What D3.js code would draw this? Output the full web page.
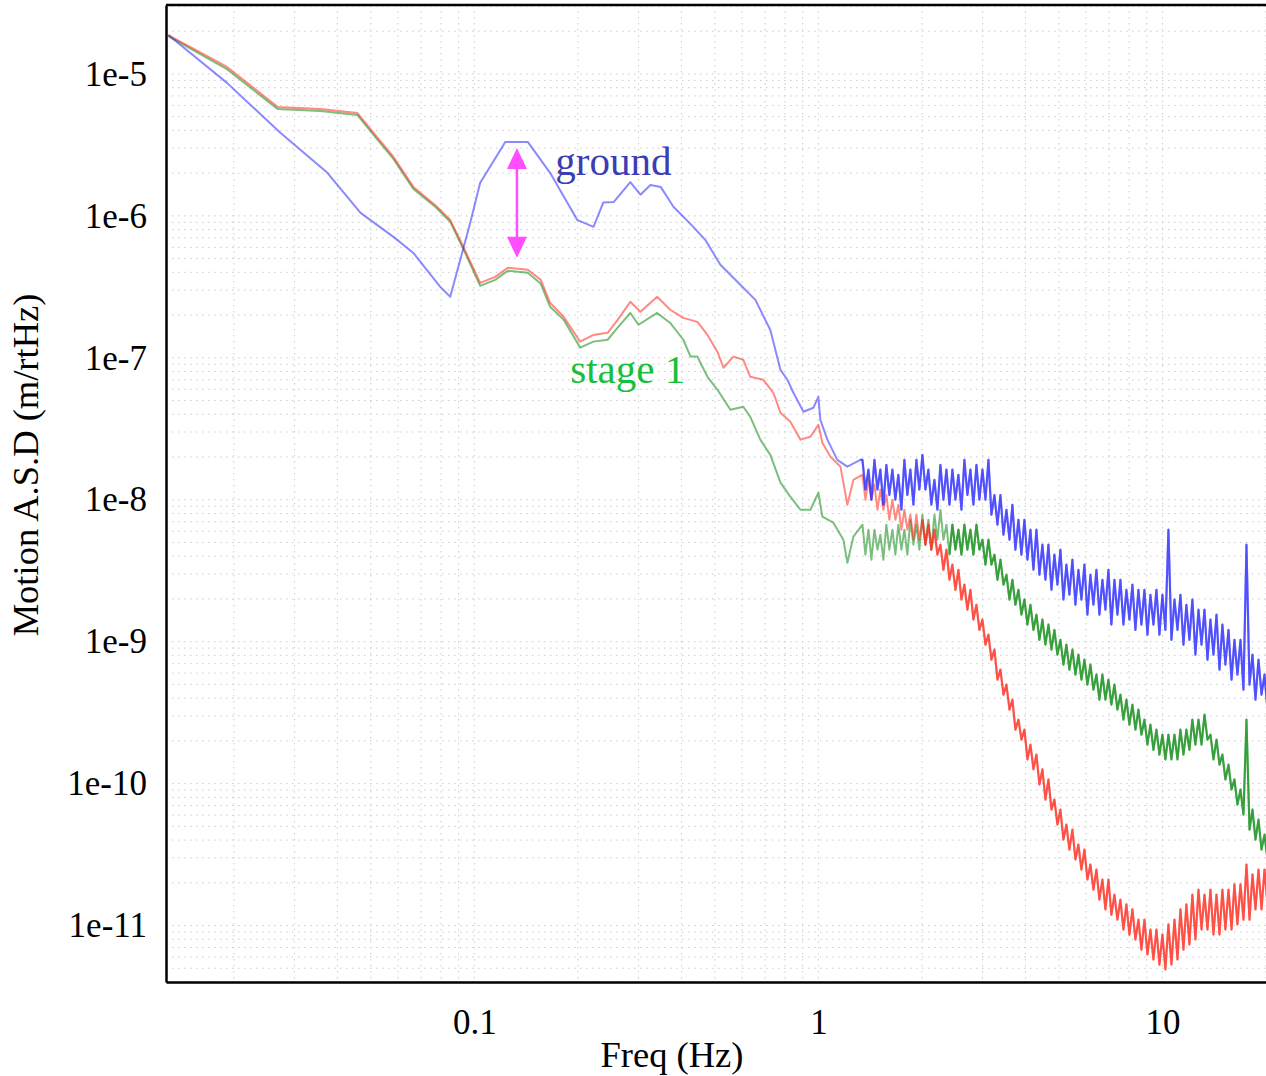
<!DOCTYPE html>
<html>
<head>
<meta charset="utf-8">
<script src="https://cdn.jsdelivr.net/npm/d3@7"></script>
<style>
  body { margin: 0; background: #fff; }
</style>
</head>
<body>
<svg id="chart" width="1266" height="1076"></svg>
<script>
// ---- data: [freq Hz, ASD m/rtHz] ----
var groundLow = [[0.0129,1.88e-5],[0.0191,8.65e-6],[0.0273,3.85e-6],[0.0374,2.01e-6],[0.0467,1.05e-6],
  [0.0582,7.11e-7],[0.0665,5.48e-7],[0.0796,3.16e-7],[0.0851,2.69e-7],[0.0910,4.90e-7],[0.0973,8.93e-7],
  [0.104,1.71e-6],[0.111,2.21e-6],[0.123,3.32e-6],[0.143,3.32e-6],[0.166,2.01e-6],[0.199,9.38e-7],
  [0.222,8.37e-7],[0.237,1.24e-6],[0.254,1.25e-6],[0.284,1.73e-6],[0.304,1.41e-6],[0.325,1.65e-6],
  [0.348,1.60e-6],[0.379,1.16e-6],[0.433,8.37e-7],[0.469,6.78e-7],[0.519,4.52e-7],[0.593,3.27e-7],
  [0.656,2.56e-7],[0.725,1.57e-7],[0.776,8.22e-8],[0.813,7.0e-8],[0.846,5.67e-8],[0.905,4.17e-8],
  [0.967,4.45e-8],[1.0,5.31e-8],[1.013,3.66e-8],[1.062,2.65e-8],[1.135,1.91e-8],[1.214,1.71e-8],[1.324,1.91e-8]];

var redLow = [[0.0129,1.88e-5],[0.0191,1.12e-5],[0.0268,5.86e-6],[0.0357,5.67e-6],[0.0457,5.31e-6],
  [0.0515,3.72e-6],[0.0582,2.60e-6],[0.0665,1.60e-6],[0.0770,1.19e-6],[0.0851,9.38e-7],[0.0929,6.05e-7],
  [0.104,3.37e-7],[0.115,3.72e-7],[0.125,4.31e-7],[0.143,4.17e-7],[0.156,3.54e-7],[0.166,2.44e-7],
  [0.182,1.94e-7],[0.203,1.30e-7],[0.222,1.45e-7],[0.244,1.50e-7],[0.261,1.85e-7],[0.284,2.48e-7],
  [0.304,2.11e-7],[0.340,2.69e-7],[0.371,2.18e-7],[0.405,1.91e-7],[0.445,1.79e-7],[0.476,1.45e-7],
  [0.509,1.10e-7],[0.530,8.51e-8],[0.566,1.02e-7],[0.605,9.68e-8],[0.634,7.35e-8],[0.692,7.0e-8],
  [0.740,5.67e-8],[0.776,4.10e-8],[0.829,3.54e-8],[0.887,2.65e-8],[0.948,2.78e-8],[1.0,3.37e-8],
  [1.027,2.52e-8],[1.084,2.01e-8],[1.159,1.71e-8],[1.182,1.32e-8],[1.214,9.22e-9],[1.264,1.38e-8]];

var greenLow = [[0.0129,1.85e-5],[0.0191,1.08e-5],[0.0268,5.67e-6],[0.0357,5.48e-6],[0.0457,5.14e-6],
  [0.0515,3.60e-6],[0.0582,2.52e-6],[0.0665,1.55e-6],[0.0770,1.16e-6],[0.0851,9.08e-7],[0.0929,5.86e-7],
  [0.104,3.21e-7],[0.115,3.54e-7],[0.125,4.10e-7],[0.143,3.97e-7],[0.156,3.32e-7],[0.166,2.29e-7],
  [0.182,1.85e-7],[0.203,1.18e-7],[0.222,1.30e-7],[0.244,1.34e-7],[0.261,1.63e-7],[0.284,2.07e-7],
  [0.300,1.71e-7],[0.340,2.07e-7],[0.371,1.76e-7],[0.405,1.34e-7],[0.425,1.02e-7],[0.445,1.02e-7],
  [0.476,7.35e-8],[0.509,5.95e-8],[0.555,4.30e-8],[0.605,4.52e-8],[0.634,3.84e-8],[0.678,2.65e-8],
  [0.725,2.07e-8],[0.776,1.32e-8],[0.829,1.05e-8],[0.887,8.50e-9],[0.948,8.50e-9],[1.0,1.12e-8],
  [1.027,7.59e-9],[1.105,6.89e-9],[1.182,5.23e-9],[1.214,3.60e-9],[1.264,5.49e-9]];

// above ~1.3 Hz the traces are noisy bands: peaks (hfFreq) alternate with troughs (hfMid)
var hfFreq = [1.343,1.398,1.455,1.514,1.576,1.641,1.708,1.778,1.851,1.927,
  2.006,2.088,2.174,2.263,2.356,2.452,2.553,2.657,2.766,2.880,
  2.998,3.121,3.249,3.382,3.521,3.664,3.815,3.971,4.134,4.303,
  4.479,4.663,4.853,5.052,5.259,5.475,5.699,5.933,6.176,6.429,
  6.692,6.966,7.252,7.549,7.858,8.180,8.515,8.865,9.228,9.607,
  10.00,10.41,10.84,11.28,11.74,12.22,12.73,13.25,13.79,14.36,
  14.94,15.56,16.19,16.86,17.55,18.27,19.02,19.80];

var hfMid = [1.370,1.426,1.485,1.545,1.608,1.674,1.743,1.814,1.889,1.966,
  2.047,2.130,2.218,2.309,2.404,2.502,2.605,2.711,2.822,2.938,
  3.059,3.184,3.315,3.451,3.593,3.738,3.892,4.052,4.218,4.390,
  4.570,4.758,4.952,5.155,5.366,5.586,5.815,6.053,6.301,6.559,
  6.828,7.107,7.399,7.702,8.018,8.346,8.688,9.045,9.415,9.802,
  10.20,10.62,11.06,11.51,11.98,12.47,12.99,13.52,14.07,14.65,
  15.24,15.88,16.52,17.20,17.91,18.64,19.41,20.20];

var groundUp = [1.91e-8,1.63e-8,1.91e-8,1.63e-8,1.76e-8,1.63e-8,1.50e-8,1.91e-8,1.63e-8,1.91e-8,
  2.07e-8,1.63e-8,1.38e-8,1.76e-8,1.63e-8,1.63e-8,1.50e-8,1.91e-8,1.63e-8,1.76e-8,
  1.63e-8,1.91e-8,1.08e-8,1.08e-8,8.50e-9,9.22e-9,7.23e-9,7.23e-9,6.15e-9,6.15e-9,
  4.82e-9,4.82e-9,4.10e-9,4.45e-9,3.49e-9,3.78e-9,3.21e-9,3.49e-9,2.96e-9,3.21e-9,
  2.73e-9,3.21e-9,2.73e-9,2.73e-9,2.32e-9,2.52e-9,2.32e-9,2.32e-9,2.14e-9,2.32e-9,
  2.14e-9,6.15e-9,1.98e-9,2.14e-9,1.82e-9,1.98e-9,1.68e-9,1.68e-9,1.43e-9,1.55e-9,
  1.32e-9,1.21e-9,1.03e-9,1.03e-9,4.82e-9,8.10e-10,7.47e-10,5.86e-10];
var groundLo = [1.18e-8,1.00e-8,1.18e-8,9.22e-9,1.08e-8,1.00e-8,8.50e-9,1.08e-8,9.22e-9,1.18e-8,
  1.18e-8,9.22e-9,8.50e-9,1.00e-8,9.22e-9,1.00e-8,8.50e-9,1.08e-8,9.22e-9,1.00e-8,
  1.00e-8,7.84e-9,6.67e-9,5.67e-9,5.23e-9,4.45e-9,4.10e-9,3.78e-9,3.21e-9,2.96e-9,
  2.73e-9,2.32e-9,2.52e-9,1.98e-9,2.14e-9,1.82e-9,1.98e-9,1.55e-9,1.82e-9,1.55e-9,
  1.68e-9,1.32e-9,1.55e-9,1.32e-9,1.43e-9,1.21e-9,1.32e-9,1.12e-9,1.32e-9,1.12e-9,
  1.21e-9,1.03e-9,1.21e-9,9.53e-10,1.03e-9,8.10e-10,9.53e-10,7.47e-10,8.10e-10,6.35e-10,
  6.89e-10,5.40e-10,5.86e-10,4.59e-10,4.98e-10,3.90e-10,4.23e-10,3.32e-10];

var redUp = [1.50e-8,1.38e-8,1.28e-8,1.18e-8,1.08e-8,1.00e-8,9.22e-9,8.50e-9,7.84e-9,7.84e-9,
  7.23e-9,6.67e-9,6.15e-9,4.82e-9,4.45e-9,3.49e-9,3.21e-9,2.52e-9,2.32e-9,1.82e-9,
  1.43e-9,1.12e-9,8.79e-10,6.35e-10,4.98e-10,3.90e-10,2.82e-10,2.40e-10,1.88e-10,1.60e-10,
  1.26e-10,1.07e-10,7.71e-11,6.56e-11,5.14e-11,4.74e-11,3.72e-11,3.43e-11,2.69e-11,2.48e-11,
  2.11e-11,2.11e-11,1.65e-11,1.52e-11,1.41e-11,1.30e-11,1.10e-11,1.10e-11,9.37e-12,9.37e-12,
  8.64e-12,1.02e-11,1.10e-11,1.30e-11,1.41e-11,1.65e-11,1.79e-11,1.65e-11,1.79e-11,1.65e-11,
  1.79e-11,1.79e-11,1.95e-11,1.95e-11,2.69e-11,2.29e-11,2.48e-11,2.48e-11];
var redLo = [1.00e-8,1.00e-8,8.50e-9,8.50e-9,7.23e-9,7.23e-9,6.15e-9,6.15e-9,5.23e-9,5.23e-9,
  4.82e-9,4.45e-9,4.10e-9,3.21e-9,2.73e-9,2.32e-9,1.98e-9,1.68e-9,1.43e-9,1.21e-9,
  9.53e-10,7.47e-10,5.40e-10,4.23e-10,3.32e-10,2.40e-10,2.04e-10,1.48e-10,1.26e-10,9.85e-11,
  7.71e-11,6.56e-11,5.14e-11,4.03e-11,3.43e-11,2.92e-11,2.48e-11,2.11e-11,1.79e-11,1.52e-11,
  1.30e-11,1.19e-11,1.10e-11,9.37e-12,8.64e-12,7.97e-12,6.77e-12,6.25e-12,5.76e-12,5.31e-12,
  4.90e-12,5.31e-12,5.76e-12,6.77e-12,7.35e-12,7.97e-12,9.37e-12,9.37e-12,8.64e-12,8.64e-12,
  9.37e-12,9.37e-12,1.02e-11,1.10e-11,1.10e-11,1.30e-11,1.30e-11,1.41e-11];

var greenUp = [6.67e-9,6.15e-9,6.15e-9,5.67e-9,6.67e-9,6.15e-9,6.67e-9,6.15e-9,7.23e-9,6.67e-9,
  7.84e-9,7.23e-9,7.84e-9,8.50e-9,6.67e-9,6.67e-9,6.15e-9,6.67e-9,6.15e-9,6.67e-9,
  5.23e-9,5.23e-9,4.10e-9,3.78e-9,2.96e-9,2.73e-9,2.32e-9,1.98e-9,1.82e-9,1.55e-9,
  1.43e-9,1.32e-9,1.21e-9,1.03e-9,9.53e-10,8.79e-10,8.10e-10,7.47e-10,6.89e-10,5.86e-10,
  5.86e-10,5.40e-10,4.98e-10,4.23e-10,3.90e-10,3.60e-10,3.32e-10,2.82e-10,2.60e-10,2.40e-10,
  2.21e-10,2.21e-10,2.21e-10,2.40e-10,2.40e-10,2.82e-10,2.82e-10,3.06e-10,2.21e-10,2.04e-10,
  1.60e-10,1.36e-10,1.07e-10,9.08e-11,2.82e-10,6.56e-11,5.58e-11,4.37e-11];
var greenLo = [4.10e-9,3.78e-9,4.45e-9,3.78e-9,4.45e-9,4.10e-9,4.45e-9,4.10e-9,4.82e-9,4.45e-9,
  4.82e-9,4.45e-9,5.23e-9,5.23e-9,4.10e-9,4.45e-9,4.10e-9,4.45e-9,4.10e-9,4.45e-9,
  3.49e-9,3.49e-9,2.73e-9,2.52e-9,1.98e-9,1.82e-9,1.55e-9,1.32e-9,1.21e-9,1.03e-9,
  9.53e-10,8.79e-10,8.10e-10,6.89e-10,6.35e-10,5.86e-10,5.40e-10,4.98e-10,4.59e-10,3.90e-10,
  3.90e-10,3.60e-10,3.32e-10,2.82e-10,2.60e-10,2.40e-10,2.21e-10,1.88e-10,1.73e-10,1.60e-10,
  1.48e-10,1.48e-10,1.48e-10,1.60e-10,1.73e-10,1.88e-10,1.88e-10,2.04e-10,1.48e-10,1.36e-10,
  1.07e-10,9.08e-11,7.11e-11,6.05e-11,4.74e-11,4.03e-11,3.43e-11,2.92e-11];

var xTicks = [0.1, 1, 10];
var yTicks = [1e-5, 1e-6, 1e-7, 1e-8, 1e-9, 1e-10, 1e-11];

// ---- layout ----
var svg = d3.select("#chart");
var plotL = 166, plotT = 5, plotR = 1266, plotB = 982;
var serif = "Liberation Serif, Times New Roman, serif";

var x = d3.scaleLog().domain([0.0127, 20]).range([plotL, plotR]);
var y = d3.scaleLog().domain([4.0e-12, 3.06e-5]).range([plotB, plotT]);

// low part followed by peak/trough pairs
function join(low, up, lo) {
  var pts = low.slice();
  hfFreq.forEach(function(f, i) {
    pts.push([f, up[i]]);
    pts.push([hfMid[i], lo[i]]);
  });
  return pts;
}

// *********** GRID ***************** //
var grid = svg.append("g").attr("class", "grid");
grid.selectAll("line.gx").data(x.ticks()).enter().append("line")
  .attr("x1", function(d) { return x(d); })
  .attr("x2", function(d) { return x(d); })
  .attr("y1", plotT).attr("y2", plotB)
  .attr("stroke", "#cccccc").attr("stroke-width", 1)
  .attr("stroke-dasharray", "1.5,4.5");
grid.selectAll("line.gy").data(y.ticks()).enter().append("line")
  .attr("y1", function(d) { return y(d); })
  .attr("y2", function(d) { return y(d); })
  .attr("x1", plotL).attr("x2", plotR)
  .attr("stroke", "#cccccc").attr("stroke-width", 1)
  .attr("stroke-dasharray", "1.5,4.5");

// *********** CURVES ***************** //
svg.append("clipPath").attr("id", "plotclip").append("rect")
  .attr("x", plotL).attr("y", plotT).attr("width", plotR - plotL).attr("height", plotB - plotT);

var line = d3.line()
  .x(function(d) { return x(d[0]); })
  .y(function(d) { return y(d[1]); });

// denseFrom: where the noise gets dense and the trace looks saturated
var series = [
  { name: "stage1-green", data: join(greenLow, greenUp, greenLo), color: "#0c8a12", denseFrom: 2.4 },
  { name: "stage1-red", data: join(redLow, redUp, redLo), color: "#ff2a1e", denseFrom: 2.0 },
  { name: "ground", data: join(groundLow, groundUp, groundLo), color: "#2a2aff", denseFrom: 1.3 }
];

var curves = svg.append("g").attr("clip-path", "url(#plotclip)");

curves.selectAll("path.base").data(series).enter().append("path")
  .attr("class", function(d) { return "base " + d.name; })
  .attr("d", function(d) { return line(d.data); })
  .attr("fill", "none")
  .attr("stroke", function(d) { return d.color; })
  .attr("stroke-width", 2)
  .attr("stroke-opacity", 0.55)
  .attr("stroke-linejoin", "round");

curves.selectAll("path.dense").data(series).enter().append("path")
  .attr("class", function(d) { return "dense " + d.name; })
  .attr("d", function(d) { return line(d.data.filter(function(p) { return p[0] >= d.denseFrom; })); })
  .attr("fill", "none")
  .attr("stroke", function(d) { return d.color; })
  .attr("stroke-width", 2.2)
  .attr("stroke-opacity", 0.6)
  .attr("stroke-linejoin", "round");

// *********** AXES ***************** //
var yAxis = svg.append("g")
  .attr("transform", "translate(" + plotL + ",0)")
  .call(d3.axisLeft(y).tickValues(yTicks).tickSize(0).tickSizeOuter(0).tickPadding(19)
    .tickFormat(function(d) { return "1e" + Math.round(Math.log10(d)); }));

var xAxis = svg.append("g")
  .attr("transform", "translate(0," + plotB + ")")
  .call(d3.axisBottom(x).tickValues(xTicks).tickSize(0).tickSizeOuter(0).tickPadding(27)
    .tickFormat(d3.format("~g")));

[yAxis, xAxis].forEach(function(a) {
  a.attr("font-family", serif).attr("font-size", 35);
  a.selectAll("text").attr("fill", "#000");
  a.select(".domain").attr("stroke", "#000").attr("stroke-width", 2.5);
});

svg.append("line")
  .attr("x1", plotL).attr("x2", plotR).attr("y1", plotT).attr("y2", plotT)
  .attr("stroke", "#000").attr("stroke-width", 2.5);

// axis titles
svg.append("text")
  .attr("x", 672).attr("y", 1067)
  .attr("text-anchor", "middle")
  .style("font-family", serif)
  .style("font-size", "36.5px")
  .text("Freq (Hz)");

svg.append("text")
  .attr("transform", "translate(38,465) rotate(-90)")
  .attr("text-anchor", "middle")
  .style("font-family", serif)
  .style("font-size", "36.5px")
  .text("Motion A.S.D (m/rtHz)");

// *********** ANNOTATIONS ***************** //
svg.append("text")
  .attr("x", x(0.172)).attr("y", y(1.95e-6))
  .style("font-family", serif)
  .style("font-size", "41px")
  .style("fill", "#3c3cb4")
  .text("ground");

svg.append("text")
  .attr("x", x(0.190)).attr("y", y(6.67e-8))
  .style("font-family", serif)
  .style("font-size", "41px")
  .style("fill", "#16c03a")
  .text("stage 1");

// double arrow between ground and stage 1
var ax = x(0.133), aTop = y(3.01e-6), aBot = y(5.06e-7);
var arrowColor = "#ff4dff";
svg.append("line")
  .attr("x1", ax).attr("x2", ax).attr("y1", aTop + 10).attr("y2", aBot - 10)
  .attr("stroke", arrowColor).attr("stroke-width", 2.5);
svg.append("path")
  .attr("d", "M" + ax + "," + aTop + "L" + (ax - 10) + "," + (aTop + 21) + "L" + (ax + 10) + "," + (aTop + 21) + "Z")
  .attr("fill", arrowColor);
svg.append("path")
  .attr("d", "M" + ax + "," + aBot + "L" + (ax - 10) + "," + (aBot - 21) + "L" + (ax + 10) + "," + (aBot - 21) + "Z")
  .attr("fill", arrowColor);
</script>
</body>
</html>
